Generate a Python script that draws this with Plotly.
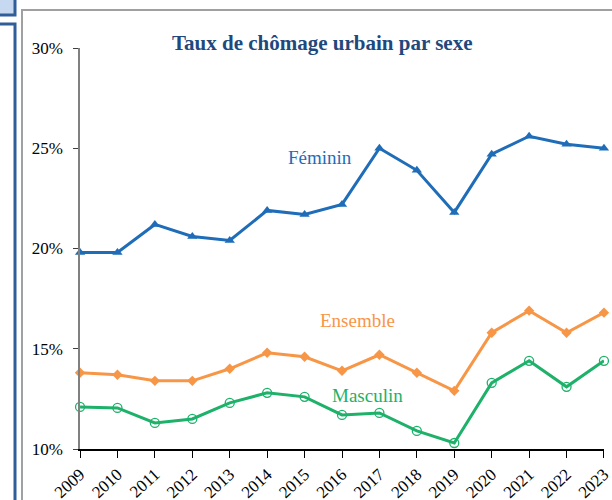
import plotly.graph_objects as go

years = list(range(2009, 2024))
feminin = [19.8, 19.8, 21.2, 20.6, 20.4, 21.9, 21.7, 22.2, 25.0, 23.9, 21.8, 24.7, 25.6, 25.2, 25.0]
ensemble = [13.8, 13.7, 13.4, 13.4, 14.0, 14.8, 14.6, 13.9, 14.7, 13.8, 12.9, 15.8, 16.9, 15.8, 16.8]
masculin = [12.1, 12.05, 11.3, 11.5, 12.3, 12.8, 12.6, 11.7, 11.8, 10.9, 10.3, 13.3, 14.4, 13.1, 14.4]
y_ticks = [10, 15, 20, 25, 30]
y_tick_labels = ["10%", "15%", "20%", "25%", "30%"]

C_FEM = "#1F6DB8"
C_ENS = "#F79646"
C_MAS = "#1DB16A"
FONT = "Liberation Serif"

W, H = 612, 500
def px(x):
    return x / W
def py(y):
    return 1 - y / H

fig = go.Figure()
fig.add_trace(go.Scatter(x=years, y=feminin, mode="lines+markers", name="Féminin",
                         line=dict(color=C_FEM, width=3),
                         marker=dict(symbol="triangle-up", size=9, color=C_FEM),
                         cliponaxis=False))
fig.add_trace(go.Scatter(x=years, y=ensemble, mode="lines+markers", name="Ensemble",
                         line=dict(color=C_ENS, width=3),
                         marker=dict(symbol="diamond", size=8, color=C_ENS),
                         cliponaxis=False))
fig.add_trace(go.Scatter(x=years, y=masculin, mode="lines+markers", name="Masculin",
                         line=dict(color=C_MAS, width=3),
                         marker=dict(symbol="circle-open", size=9, color=C_MAS, line=dict(width=1.3)),
                         cliponaxis=False))

shapes = [
    dict(type="rect", xref="paper", yref="paper", x0=px(22), x1=px(640), y0=py(520), y1=py(10),
         line=dict(color="#A0A0A0", width=2), fillcolor="rgba(0,0,0,0)", layer="below"),
    dict(type="rect", xref="paper", yref="paper", x0=px(-10), x1=px(15), y0=py(15), y1=py(-10),
         line=dict(color="#2F5F98", width=3), fillcolor="#C6D9F1", layer="below"),
    dict(type="rect", xref="paper", yref="paper", x0=px(-10), x1=px(15), y0=py(520), y1=py(24),
         line=dict(color="#2F5F98", width=3), fillcolor="rgba(0,0,0,0)", layer="below"),
]

def label(text, x, y, size, color):
    return dict(text=text, xref="paper", yref="paper", x=px(x), y=py(y),
                xanchor="center", yanchor="middle", showarrow=False,
                font=dict(family=FONT, size=size, color=color))

annotations = [
    label("<b>Taux de chômage urbain par sexe</b>", 322, 43, 21, "#1F497D"),
    label("Féminin", 320, 157, 19, C_FEM),
    label("Ensemble", 357, 320, 19, C_ENS),
    label("Masculin", 367, 395, 19, C_MAS),
]

fig.update_layout(
    width=W, height=H,
    margin=dict(l=0, r=0, t=0, b=0, autoexpand=False),
    paper_bgcolor="white", plot_bgcolor="white",
    showlegend=False,
    font=dict(family=FONT, size=17, color="black"),
    shapes=shapes, annotations=annotations,
    xaxis=dict(domain=[px(80), px(604)], range=[2008.999, 2023.001], tickmode="array",
               tickvals=years, ticktext=[str(y) for y in years], tickangle=-43,
               automargin=False, ticklabeloverflow="allow", ticklabelstandoff=0,
               showgrid=False, zeroline=False, showline=True, linecolor="black", linewidth=1.5,
               ticks="outside", ticklen=7, tickcolor="black", tickfont=dict(size=17)),
    yaxis=dict(domain=[py(449), py(48)], range=[10, 30], tickvals=y_ticks, ticktext=y_tick_labels,
               automargin=False, ticklabelstandoff=7,
               showgrid=False, zeroline=False, showline=True, linecolor="#808080", linewidth=1.5,
               ticks="outside", ticklen=5, tickcolor="#404040", tickfont=dict(size=17)),
)

fig.write_html("out.html", config={"displayModeBar": False},
               post_script="document.body.style.margin='0px';document.body.style.padding='0px';document.body.style.overflow='hidden';")
